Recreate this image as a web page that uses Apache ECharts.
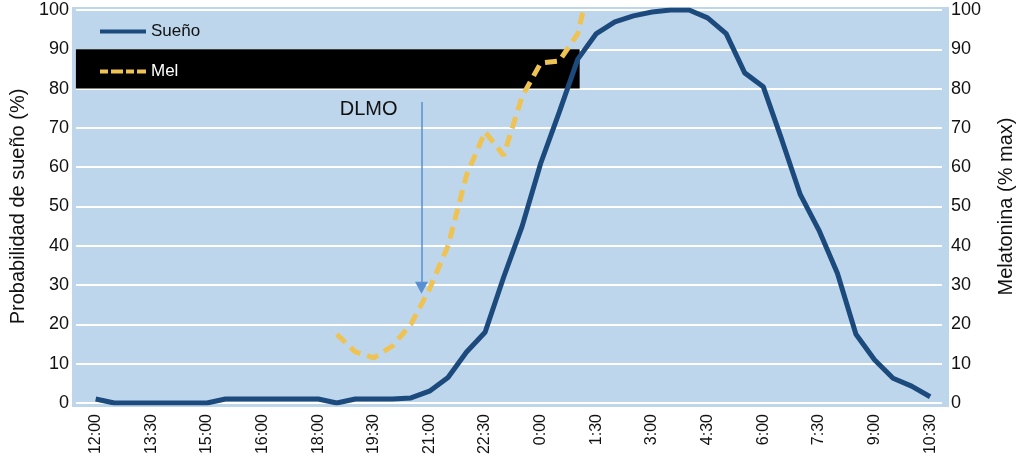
<!DOCTYPE html>
<html>
<head>
<meta charset="utf-8">
<script src="https://cdn.jsdelivr.net/npm/echarts@6/dist/echarts.min.js"></script>
<style>
html, body { margin: 0; padding: 0; background: #fff; }
#chart { width: 1024px; height: 463px; }
</style>
</head>
<body>
<div id="chart"></div>
<script>
// horas cada 30 min, de 12:00 a 10:30
var horas = ['12:00','12:30','13:00','13:30','14:00','14:30','15:00','15:30','16:00','16:30',
  '17:00','17:30','18:00','18:30','19:00','19:30','20:00','20:30','21:00','21:30',
  '22:00','22:30','23:00','23:30','0:00','0:30','1:00','1:30','2:00','2:30',
  '3:00','3:30','4:00','4:30','5:00','5:30','6:00','6:30','7:00','7:30',
  '8:00','8:30','9:00','9:30','10:00','10:30'];
var etiquetas = ['12:00','13:30','15:00','16:00','18:00','19:30','21:00','22:30',
  '0:00','1:30','3:00','4:30','6:00','7:30','9:00','10:30'];
var sueno = [1, 0, 0, 0, 0, 0, 0, 1, 1, 1,
  1, 1, 1, 0, 1, 1, 1, 1.3, 3, 6.5,
  13, 18, 32, 45, 61, 74, 87.5, 94, 97, 98.5,
  99.5, 100, 100, 98, 94, 84, 80.5, 67, 53, 44,
  33, 17.5, 11, 6.3, 4.3, 1.6];
var mel = [null, null, null, null, null, null, null, null, null, null,
  null, null, null, 17.5, 13, 11.5, 14.5, 20, 29, 40,
  58, 69, 63, 78, 86.5, 87, 94, 114];

var paso = 3; // una etiqueta cada 3 medias horas
var posEtiquetas = etiquetas.map(function (e, i) { return i * paso; });

var dom = document.getElementById('chart');
var myChart = echarts.init(dom, null, { renderer: 'canvas' });

var fuente = 'Liberation Sans';

var option = {
  animation: false,
  textStyle: { fontFamily: fuente },
  graphic: [{
    type: 'rect',
    z: -10,
    shape: { x: 72, y: 7, width: 877, height: 400 },
    style: { fill: '#bdd6eb' }
  }],
  legend: {
    orient: 'vertical',
    left: 95,
    top: 18,
    itemWidth: 46,
    itemHeight: 14,
    itemGap: 23,
    textStyle: { fontFamily: fuente, fontSize: 17 },
    data: [
      { name: 'Sueño', icon: 'path://M0,0h46v4h-46z', textStyle: { color: '#111' } },
      { name: 'Mel', icon: 'path://M0,0h8v4h-8zM11,0h12v4h-12zM26,0h8v4h-8zM37,0h9v4h-9z', textStyle: { color: '#fff' } }
    ]
  },
  grid: { left: 72, right: 75, top: 10, bottom: 60 },
  xAxis: {
    type: 'value',
    min: -1.065,
    max: 45.64,
    axisLine: { show: false },
    axisTick: { show: false },
    splitLine: { show: false },
    axisLabel: {
      customValues: posEtiquetas,
      rotate: 90,
      margin: 11,
      fontSize: 16,
      color: '#111',
      fontFamily: fuente,
      formatter: function (v) { return etiquetas[Math.round(v / paso)]; }
    }
  },
  yAxis: [{
    type: 'value',
    min: 0,
    max: 100,
    interval: 10,
    name: 'Probabilidad de sueño (%)',
    nameLocation: 'middle',
    nameGap: 47,
    nameTextStyle: { fontSize: 20, color: '#111', fontFamily: fuente },
    axisLine: { show: false },
    axisTick: { show: false },
    axisLabel: { fontSize: 18, color: '#111', margin: 7, fontFamily: fuente },
    splitLine: { lineStyle: { color: '#ffffff', width: 2 } }
  }, {
    type: 'value',
    min: 0,
    max: 100,
    interval: 10,
    position: 'right',
    name: 'Melatonina (% max)',
    nameLocation: 'middle',
    nameGap: 54,
    nameTextStyle: { fontSize: 20, color: '#111', fontFamily: fuente },
    axisLine: { show: false },
    axisTick: { show: false },
    axisLabel: { fontSize: 18, color: '#111', margin: 9, fontFamily: fuente },
    splitLine: { show: false }
  }],
  series: [
    {
      name: 'Sueño',
      type: 'line',
      yAxisIndex: 0,
      symbol: 'none',
      z: 3,
      lineStyle: { color: '#1c4a7c', width: 5 },
      itemStyle: { color: '#1c4a7c' },
      data: sueno.map(function (v, i) { return [i, v]; }),
      markArea: {
        silent: true,
        itemStyle: { color: '#000' },
        data: [[{ coord: [-1.065, 90] }, { coord: [26.1, 80] }]]
      }
    },
    {
      name: 'Mel',
      type: 'line',
      yAxisIndex: 1,
      symbol: 'none',
      z: 4,
      lineStyle: { color: '#efc353', width: 5, type: [12, 7] },
      itemStyle: { color: '#efc353' },
      data: mel.map(function (v, i) { return [i, v]; }),
      markLine: {
        silent: true,
        symbol: ['none', 'triangle'],
        symbolSize: [13, 12],
        label: { show: false },
        lineStyle: { color: '#5a8fd2', width: 1.5, type: 'solid' },
        data: [[{ coord: [17.57, 76.6] }, { coord: [17.57, 29.3] }]]
      },
      markPoint: {
        silent: true,
        symbol: 'circle',
        symbolSize: 0,
        label: {
          show: true,
          position: 'inside',
          formatter: 'DLMO',
          fontSize: 20,
          color: '#111',
          fontFamily: fuente
        },
        data: [{ coord: [14.72, 74.6] }]
      }
    }
  ]
};

if (option && typeof option === 'object') {
  myChart.setOption(option);
}

window.addEventListener('resize', myChart.resize);
</script>
</body>
</html>
